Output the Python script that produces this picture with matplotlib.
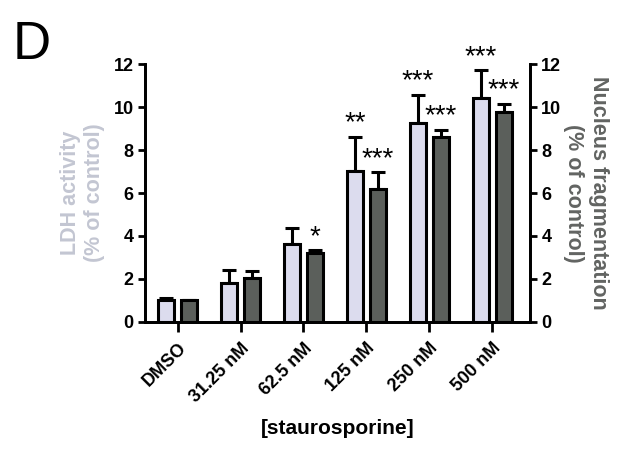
import numpy as np
import matplotlib
matplotlib.use("Agg")
import matplotlib.pyplot as plt

plt.rcParams["font.family"] = ["Liberation Sans", "DejaVu Sans"]

# data
categories = ["DMSO", "31.25 nM", "62.5 nM", "125 nM", "250 nM", "500 nM"]
ldh_mean = [1.0, 1.78, 3.6, 7.05, 9.27, 10.43]
ldh_err = [0.1, 0.65, 0.75, 1.58, 1.3, 1.3]
nuc_mean = [1.0, 2.05, 3.18, 6.2, 8.62, 9.77]
nuc_err = [0.0, 0.3, 0.15, 0.76, 0.33, 0.4]
ldh_stars = ["", "", "", "**", "***", "***"]
nuc_stars = ["", "", "*", "***", "***", "***"]

LIGHT = "#dcdcee"
DARK = "#5b5f5b"

fig = plt.figure(figsize=(6.35, 4.51), dpi=100)
ax = fig.add_axes([0.228, 0.287, 0.607, 0.570])
ax2 = ax.twinx()

x = np.arange(len(categories))
off = 0.18
w = 0.26

ax.bar(x - off, ldh_mean, w, color=LIGHT, edgecolor="black", linewidth=2.2, zorder=3)
ax.errorbar(x - off, ldh_mean, yerr=[np.zeros(len(x)), ldh_err], fmt="none",
            ecolor="black", elinewidth=2.2, capsize=5, capthick=2.2, zorder=2)
ax2.bar(x + off, nuc_mean, w, color=DARK, edgecolor="black", linewidth=2.2, zorder=3)
ax2.errorbar(x + off, nuc_mean, yerr=[np.zeros(len(x)), nuc_err], fmt="none",
             ecolor="black", elinewidth=2.2, capsize=5, capthick=2.2, zorder=2)

# significance asterisks above the error bars
for i in range(len(x)):
    if ldh_stars[i]:
        ax.text(x[i] - off, ldh_mean[i] + ldh_err[i] + 0.3, ldh_stars[i],
                ha="center", va="baseline", fontsize=20, clip_on=False)
    if nuc_stars[i]:
        ax2.text(x[i] + off, nuc_mean[i] + nuc_err[i] + 0.3, nuc_stars[i],
                 ha="center", va="baseline", fontsize=20, clip_on=False)

for a in (ax, ax2):
    a.set_ylim(0, 12)
    a.set_yticks([0, 2, 4, 6, 8, 10, 12])
    a.set_xlim(-0.52, 5.6)
    a.spines["top"].set_visible(False)
    for s in ("left", "right", "bottom"):
        a.spines[s].set_linewidth(2)
    a.tick_params(width=2, length=5, labelsize=13, pad=3)
    for lab in a.get_yticklabels():
        lab.set_fontweight("bold")

ax.set_xticks(x)
ax.set_xticklabels(categories, rotation=45, ha="right", rotation_mode="anchor",
                   fontweight="bold", fontsize=13)
ax.tick_params(axis="x", length=7, pad=6)

ax.set_ylabel("LDH activity\n(% of control)", color="#c3c6d2", fontsize=15.5,
              fontweight="bold", labelpad=6)
ax2.set_ylabel("Nucleus fragmentation\n(% of control)", color="#626462", fontsize=15.5,
               rotation=270, fontweight="bold", labelpad=34)
ax.set_xlabel("[staurosporine]", fontsize=15, fontweight="bold", labelpad=10)

fig.text(0.02, 0.87, "D", fontsize=38)

fig.savefig("out.png", dpi=100)
